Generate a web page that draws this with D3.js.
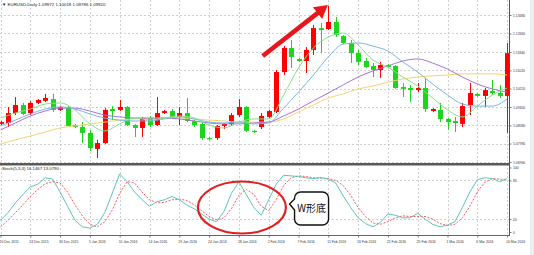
<!DOCTYPE html>
<html>
<head>
<meta charset="utf-8">
<script src="https://cdn.jsdelivr.net/npm/d3@7"></script>
<style>
  body { margin: 0; background: #fff; }
  svg { display: block; font-family: "Liberation Sans", Arial, sans-serif; }
</style>
</head>
<body>
<svg id="chart" width="534" height="255"></svg>
<script>
// Daily bars (broker includes Sunday bars)
const dates = [
  "2015-12-20","2015-12-21","2015-12-22","2015-12-23","2015-12-24","2015-12-27","2015-12-28","2015-12-29","2015-12-30","2015-12-31",
  "2016-01-03","2016-01-04","2016-01-05","2016-01-06","2016-01-07","2016-01-08","2016-01-10","2016-01-11","2016-01-12","2016-01-13",
  "2016-01-14","2016-01-15","2016-01-17","2016-01-18","2016-01-19","2016-01-20","2016-01-21","2016-01-22","2016-01-24","2016-01-25",
  "2016-01-26","2016-01-27","2016-01-28","2016-01-29","2016-01-31","2016-02-01","2016-02-02","2016-02-03","2016-02-04","2016-02-05",
  "2016-02-07","2016-02-08","2016-02-09","2016-02-10","2016-02-11","2016-02-12","2016-02-14","2016-02-15","2016-02-16","2016-02-17",
  "2016-02-18","2016-02-19","2016-02-21","2016-02-22","2016-02-23","2016-02-24","2016-02-25","2016-02-26","2016-02-28","2016-02-29",
  "2016-03-01","2016-03-02","2016-03-03","2016-03-04","2016-03-06","2016-03-07","2016-03-08","2016-03-09","2016-03-10"
];

const open = [
  1.0865,1.0869,1.0913,1.0949,1.0913,1.0958,1.0967,1.0975,1.0927,1.0940,
  1.0860,1.0851,1.0825,1.0754,1.0780,1.0931,1.0927,1.0940,1.0860,1.0847,
  1.0891,1.0860,1.0913,1.0922,1.0896,1.0913,1.0878,1.0865,1.0802,1.0802,
  1.0856,1.0865,1.0904,1.0940,1.0834,1.0851,1.0896,1.0918,1.1095,1.1202,
  1.1153,1.1144,1.1193,1.1290,1.1286,1.1317,1.1255,1.1224,1.1179,1.1144,
  1.1122,1.1104,1.1126,1.1122,1.1029,1.1024,1.1015,1.1024,1.0922,1.0927,
  1.0887,1.0878,1.0865,1.0949,1.0998,1.0989,1.1011,1.1002,1.0989
];
const high = [
  1.0878,1.0940,1.0984,1.0958,1.0967,1.0975,1.0998,1.0998,1.0944,1.0944,
  1.0865,1.0873,1.0838,1.0794,1.0935,1.0944,1.0971,1.0944,1.0865,1.0896,
  1.0900,1.0984,1.0927,1.0931,1.0940,1.0980,1.0882,1.0873,1.0807,1.0860,
  1.0869,1.0913,1.0975,1.0944,1.0838,1.0913,1.0927,1.1104,1.1211,1.1237,
  1.1157,1.1206,1.1304,1.1313,1.1388,1.1339,1.1259,1.1237,1.1193,1.1157,
  1.1135,1.1140,1.1131,1.1126,1.1046,1.1038,1.1046,1.1069,1.0935,1.0958,
  1.0891,1.0896,1.0958,1.1046,1.1002,1.1024,1.1060,1.1038,1.1224
];
const low = [
  1.0860,1.0851,1.0904,1.0904,1.0904,1.0953,1.0962,1.0918,1.0922,1.0851,
  1.0847,1.0780,1.0745,1.0714,1.0776,1.0882,1.0922,1.0856,1.0807,1.0807,
  1.0851,1.0856,1.0909,1.0891,1.0860,1.0873,1.0851,1.0794,1.0794,1.0794,
  1.0842,1.0856,1.0896,1.0829,1.0825,1.0842,1.0891,1.0913,1.1082,1.1113,
  1.1140,1.1091,1.1171,1.1179,1.1281,1.1250,1.1219,1.1135,1.1126,1.1113,
  1.1073,1.1069,1.1113,1.1020,1.0984,1.0962,1.1006,1.0918,1.0918,1.0873,
  1.0838,1.0829,1.0851,1.0904,1.0984,1.0940,1.0993,1.0980,1.0825
];
const close = [
  1.0873,1.0913,1.0949,1.0909,1.0958,1.0971,1.0980,1.0927,1.0940,1.0856,
  1.0851,1.0825,1.0758,1.0780,1.0927,1.0922,1.0940,1.0860,1.0847,1.0891,
  1.0860,1.0913,1.0922,1.0896,1.0913,1.0878,1.0860,1.0802,1.0798,1.0856,
  1.0865,1.0904,1.0940,1.0834,1.0829,1.0900,1.0922,1.1095,1.1202,1.1162,
  1.1144,1.1193,1.1290,1.1281,1.1317,1.1259,1.1224,1.1179,1.1140,1.1117,
  1.1104,1.1126,1.1117,1.1024,1.1020,1.1015,1.1024,1.0931,1.0931,1.0887,
  1.0873,1.0869,1.0944,1.1002,1.0989,1.1015,1.1002,1.0989,1.1179
];

// Moving averages, read every other bar
const maFast = [1.0891,1.0913,1.0931,1.0953,1.0958,1.0927,1.0865,1.0834,1.0865,1.0891,1.0882,1.0891,1.0900,1.0891,1.0860,1.0847,1.0873,1.0887,1.0887,1.0993,1.1113,1.1202,1.1250,1.1268,1.1215,1.1148,1.1117,1.1073,1.1033,1.0980,1.0927,1.0896,1.0944,1.0993,1.1024];
const maMid = [1.0856,1.0882,1.0909,1.0931,1.0940,1.0931,1.0909,1.0891,1.0882,1.0878,1.0878,1.0887,1.0896,1.0887,1.0873,1.0869,1.0873,1.0865,1.0869,1.0935,1.1006,1.1082,1.1162,1.1219,1.1224,1.1210,1.1188,1.1140,1.1095,1.1042,1.0993,1.0953,1.0944,1.0944,1.0975];
const maSlow = [1.0838,1.0869,1.0900,1.0922,1.0935,1.0935,1.0922,1.0904,1.0896,1.0891,1.0891,1.0891,1.0887,1.0878,1.0869,1.0865,1.0865,1.0869,1.0873,1.0900,1.0931,1.0967,1.1002,1.1038,1.1073,1.1100,1.1122,1.1144,1.1153,1.1135,1.1108,1.1073,1.1042,1.1020,1.1006];
const maLong = [1.0776,1.0794,1.0811,1.0829,1.0847,1.0856,1.0865,1.0873,1.0882,1.0887,1.0891,1.0891,1.0891,1.0887,1.0882,1.0878,1.0873,1.0873,1.0873,1.0887,1.0918,1.0949,1.0980,1.0998,1.1020,1.1033,1.1050,1.1064,1.1073,1.1078,1.1082,1.1087,1.1087,1.1087,1.1082];

// Stochastic (5,3,3)
const stochK = [18,30,45,58,70,74,84,82,62,40, 18,8,6,12,30,60,90,78,62,50, 40,47,50,55,50,42,36,28,20,16, 32,60,78,58,38,26,50,74,88,87, 86,84,83,84,82,76,56,38,22,13, 8,15,28,26,22,22,29,20,12,8, 11,16,38,62,81,84,83,78,83];
const stochD = [8,18,30,42,55,66,75,78,76,62, 42,25,12,8,16,34,60,78,76,62, 50,45,46,50,51,49,42,33,24,19, 22,36,57,66,58,40,33,50,72,84, 87,86,84,84,83,80,72,57,38,24, 14,12,16,22,25,24,24,24,20,13, 10,12,22,40,62,77,83,82,81];

const priceTicks = [1.13480, 1.12660, 1.11840, 1.11020, 1.10220, 1.09400, 1.08580, 1.07780, 1.06960];
const stochTicks = [100, 80, 20, 0];
const stochLevels = [80, 20];
const labelDates = ["2015-12-20","2015-12-24","2015-12-30","2016-01-05","2016-01-10","2016-01-14","2016-01-19","2016-01-24","2016-01-28","2016-02-02","2016-02-07","2016-02-11","2016-02-16","2016-02-21","2016-02-25","2016-03-01","2016-03-06","2016-03-10"];

const headerText = "EURUSD,Daily  1.09972 1.10018 1.09786 1.09920";
const stochText = "Stoch(5,3,3) 16.1467 13.0790";
const calloutText = "W形底";

const svg = d3.select("#chart");
const axisX = 509.5;
const mainBottom = 163;
const stochTop = 165.5;
const stochBottom = 235;

const x = d3.scalePoint().domain(dates).range([0.5, 507.1]);
const y = d3.scaleLinear().domain([1.0696, 1.1348]).range([162, 15]);
const ys = d3.scaleLinear().domain([0, 100]).range([232, 167.5]);

const parse = d3.timeParse("%Y-%m-%d");
const fmt = d3.timeFormat("%-d %b %Y");

// right strip of the window frame
svg.append("rect").attr("x", 530).attr("y", 0).attr("width", 4).attr("height", 255).attr("fill", "#eceef2");

const defs = svg.append("defs");
defs.append("clipPath").attr("id", "clipMain")
  .append("rect").attr("x", 0).attr("y", 0).attr("width", axisX).attr("height", mainBottom);
defs.append("clipPath").attr("id", "clipStoch")
  .append("rect").attr("x", 0).attr("y", stochTop).attr("width", axisX).attr("height", stochBottom - stochTop);

// Grid
const grid = svg.append("g")
  .attr("stroke", "#c4c4c4")
  .attr("stroke-width", 0.8)
  .attr("stroke-dasharray", "2,2")
  .attr("fill", "none");

grid.selectAll(".hg").data(priceTicks).join("line")
  .attr("x1", 0).attr("x2", axisX)
  .attr("y1", d => Math.round(y(d)) + 0.5)
  .attr("y2", d => Math.round(y(d)) + 0.5);

grid.selectAll(".sg").data(stochLevels).join("line")
  .attr("x1", 0).attr("x2", axisX)
  .attr("y1", d => Math.round(ys(d)) + 0.5)
  .attr("y2", d => Math.round(ys(d)) + 0.5);

grid.selectAll(".vg").data(labelDates).join("line")
  .attr("x1", d => Math.round(x(d)) + 0.5)
  .attr("x2", d => Math.round(x(d)) + 0.5)
  .attr("y1", 0).attr("y2", stochBottom);

// Candles
const bars = dates.map((d, i) => ({ date: d, o: open[i], h: high[i], l: low[i], c: close[i] }));
const upColor = "#ff0000";
const downColor = "#1ed51e";

const candles = svg.append("g").attr("clip-path", "url(#clipMain)");

candles.selectAll(".wick").data(bars).join("line")
  .attr("x1", d => Math.round(x(d.date)) + 0.5)
  .attr("x2", d => Math.round(x(d.date)) + 0.5)
  .attr("y1", d => y(d.h))
  .attr("y2", d => y(d.l))
  .attr("stroke", d => d.c >= d.o ? upColor : downColor)
  .attr("stroke-width", 1);

candles.selectAll(".body").data(bars).join("rect")
  .attr("x", d => Math.round(x(d.date)) - 2)
  .attr("width", 5)
  .attr("y", d => y(Math.max(d.o, d.c)))
  .attr("height", d => Math.max(1.2, Math.abs(y(d.o) - y(d.c))))
  .attr("fill", d => d.c >= d.o ? upColor : downColor);

// Moving averages
const maDates = dates.filter((d, i) => i % 2 === 0);
const maLine = d3.line()
  .x((d, i) => x(maDates[i]))
  .y(d => y(d))
  .curve(d3.curveMonotoneX);

const maSeries = [
  { values: maLong, color: "#f3d46e" },
  { values: maSlow, color: "#a673d6" },
  { values: maMid, color: "#79b3e6" },
  { values: maFast, color: "#84e084" }
];

svg.append("g").attr("clip-path", "url(#clipMain)")
  .selectAll("path").data(maSeries).join("path")
  .attr("d", d => maLine(d.values))
  .attr("fill", "none")
  .attr("stroke", d => d.color)
  .attr("stroke-width", 1);

// Stochastic panel
const stochLine = d3.line()
  .x((d, i) => x(dates[i]))
  .y(d => ys(d));

const stochG = svg.append("g").attr("clip-path", "url(#clipStoch)");
stochG.append("path")
  .attr("d", stochLine(stochD))
  .attr("fill", "none")
  .attr("stroke", "#f04848")
  .attr("stroke-width", 0.9)
  .attr("stroke-dasharray", "2,1.5");
stochG.append("path")
  .attr("d", stochLine(stochK))
  .attr("fill", "none")
  .attr("stroke", "#5cc4b4")
  .attr("stroke-width", 1);

// Panel frame lines
svg.append("line")
  .attr("x1", 0).attr("x2", axisX)
  .attr("y1", 164.2).attr("y2", 164.2)
  .attr("stroke", "#5a5a5a").attr("stroke-width", 2.4);
svg.append("line")
  .attr("x1", 0).attr("x2", axisX)
  .attr("y1", stochBottom + 0.5).attr("y2", stochBottom + 0.5)
  .attr("stroke", "#666").attr("stroke-width", 1);
svg.append("line")
  .attr("x1", axisX).attr("x2", axisX)
  .attr("y1", 0).attr("y2", stochBottom + 1)
  .attr("stroke", "#555").attr("stroke-width", 1);

// Axes
function styleAxis(g) {
  g.select(".domain").remove();
  g.attr("font-family", "\"Liberation Sans\", Arial, sans-serif").attr("font-size", 3.4);
  g.selectAll(".tick line").attr("stroke", "#555").attr("stroke-width", 0.8);
  g.selectAll(".tick text").attr("fill", "#333");
}

svg.append("g")
  .attr("transform", `translate(${axisX},0)`)
  .call(d3.axisRight(y).tickValues(priceTicks).tickFormat(d3.format(".5f")).tickSize(2).tickPadding(1.5))
  .call(styleAxis);

svg.append("g")
  .attr("transform", `translate(${axisX},0)`)
  .call(d3.axisRight(ys).tickValues(stochTicks).tickFormat(d3.format("d")).tickSize(2).tickPadding(1.5))
  .call(styleAxis);

svg.append("g")
  .attr("transform", `translate(0,${stochBottom + 0.5})`)
  .call(d3.axisBottom(x).tickValues(labelDates).tickFormat(d => fmt(parse(d))).tickSize(2).tickPadding(3))
  .call(styleAxis)
  .call(g => g.selectAll(".tick text").attr("text-anchor", "start").attr("dx", -1.5));

// Header labels
svg.append("text")
  .attr("x", 2).attr("y", 6)
  .attr("font-size", 4.4).attr("fill", "#222")
  .text("▼ " + headerText);

svg.append("text")
  .attr("x", 2).attr("y", 170.3)
  .attr("font-size", 4.3).attr("fill", "#222")
  .text(stochText);

// Annotations
const arrowFrom = { date: "2016-02-02", price: 1.1166 };
const arrowTo = { date: "2016-02-11", price: 1.1392 };
const p0 = [x(arrowFrom.date) - 6, y(arrowFrom.price)];
const p1 = [x(arrowTo.date) - 0.5, y(arrowTo.price)];
const len = Math.hypot(p1[0] - p0[0], p1[1] - p0[1]);
const ux = (p1[0] - p0[0]) / len, uy = (p1[1] - p0[1]) / len;
const headLen = 13, headHalf = 7.5;
const bx = p1[0] - ux * headLen, by = p1[1] - uy * headLen;

const arrow = svg.append("g");
arrow.append("line")
  .attr("x1", p0[0]).attr("y1", p0[1])
  .attr("x2", bx + ux * 2).attr("y2", by + uy * 2)
  .attr("stroke", "#e8171c").attr("stroke-width", 4.6);
arrow.append("path")
  .attr("d", `M${p1[0]},${p1[1]}L${bx - uy * headHalf},${by + ux * headHalf}L${bx + uy * headHalf},${by - ux * headHalf}Z`)
  .attr("fill", "#e8171c");

const ring = { date: "2016-01-28", value: 38 };
svg.append("ellipse")
  .attr("cx", x(ring.date) + 3)
  .attr("cy", ys(ring.value))
  .attr("rx", 44).attr("ry", 26)
  .attr("fill", "none")
  .attr("stroke", "#e01f22")
  .attr("stroke-width", 2.2);

const callout = { date: "2016-02-05", value: 62 };
const cx0 = x(callout.date) + 3.5, cy0 = ys(callout.value);
const cw = 34, ch = 33, r = 6;
const calloutPath = d3.path();
calloutPath.moveTo(cx0 + r, cy0);
calloutPath.lineTo(cx0 + cw - r, cy0);
calloutPath.arcTo(cx0 + cw, cy0, cx0 + cw, cy0 + r, r);
calloutPath.lineTo(cx0 + cw, cy0 + ch - r);
calloutPath.arcTo(cx0 + cw, cy0 + ch, cx0 + cw - r, cy0 + ch, r);
calloutPath.lineTo(cx0 + r, cy0 + ch);
calloutPath.arcTo(cx0, cy0 + ch, cx0, cy0 + ch - r, r);
calloutPath.lineTo(cx0, cy0 + 18);
calloutPath.lineTo(cx0 - 5, cy0 + 12);
calloutPath.lineTo(cx0, cy0 + 7);
calloutPath.lineTo(cx0, cy0 + r);
calloutPath.arcTo(cx0, cy0, cx0 + r, cy0, r);
calloutPath.closePath();

svg.append("path")
  .attr("d", calloutPath.toString())
  .attr("fill", "#fff")
  .attr("stroke", "#111")
  .attr("stroke-width", 1.4);

svg.append("text")
  .attr("x", cx0 + cw / 2)
  .attr("y", cy0 + ch / 2)
  .attr("dy", "0.36em")
  .attr("text-anchor", "middle")
  .attr("font-family", "\"Noto Sans CJK SC\", sans-serif")
  .attr("font-size", 10)
  .attr("fill", "#111")
  .text(calloutText);
</script>
</body>
</html>
